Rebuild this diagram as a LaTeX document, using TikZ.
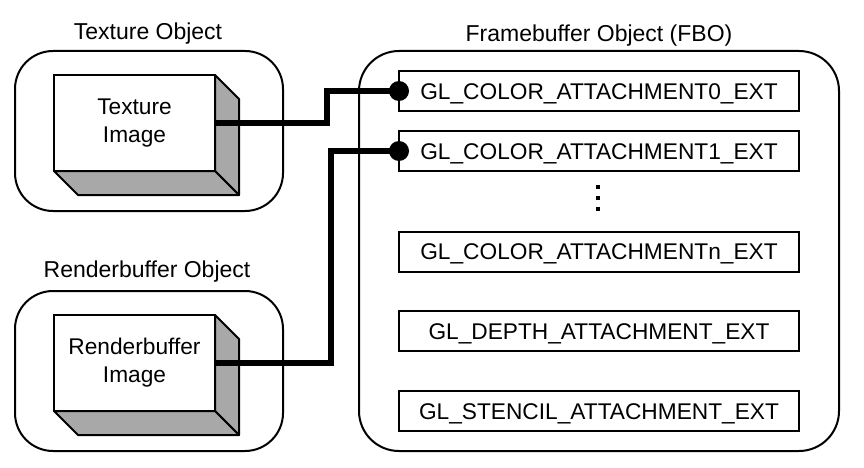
\documentclass[tikz,border=0pt]{standalone}
\usepackage{fontspec}
\setmainfont{Liberation Sans}
\definecolor{sidegray}{RGB}{168,168,168}
\begin{document}
\begin{tikzpicture}[x=1pt,y=-1pt,
  container/.style={draw, line width=2pt, rounded corners=38pt, inner sep=0pt, outer sep=0pt},
  titletext/.style={anchor=base, inner sep=0pt, font=\fontsize{23}{27}\selectfont},
  frontface/.style={draw, fill=white, line width=2pt, minimum width=161pt, minimum height=96pt,
    inner sep=0pt, outer sep=0pt, align=center, font=\fontsize{22.7}{28}\selectfont},
  sideface/.style={fill=sidegray, draw, line width=2pt, line join=round},
  attach/.style={draw, line width=2pt, minimum width=400pt, minimum height=40pt, inner sep=0pt,
    outer sep=0pt, text height=16.2pt, text depth=0pt, font=\fontsize{22.7}{26}\selectfont},
  conn/.style={line width=5.5pt},
  enddot/.style={fill=black},
]
\useasboundingbox (0,0) rectangle (864,468);

% containers
\node[container, minimum width=268pt, minimum height=160pt] (texobj) at (149,131) {};
\node[container, minimum width=268pt, minimum height=160pt] (rbobj) at (149,371) {};
\node[container, rounded corners=40pt, minimum width=480pt, minimum height=400pt] (fbo) at (599,251) {};

% titles
\node[titletext] (textitle) at (148,39.5) {Texture Object};
\node[titletext] (rbtitle) at (147,277.5) {Renderbuffer Object};
\node[titletext] (fbotitle) at (599,42) {Framebuffer Object (FBO)};

% 3D boxes
\node[frontface] (texf) at (134.5,123) {Texture\\Image};
\draw[sideface] (texf.north east) -- ++(24,24) -- ++(0,96) -- (texf.south east) -- cycle;
\draw[sideface] (texf.south west) -- ++(24,24) -- ++(161,0) -- (texf.south east) -- cycle;

\node[frontface] (rbf) at (134.5,363) {Renderbuffer\\Image};
\draw[sideface] (rbf.north east) -- ++(24,24) -- ++(0,96) -- (rbf.south east) -- cycle;
\draw[sideface] (rbf.south west) -- ++(24,24) -- ++(161,0) -- (rbf.south east) -- cycle;

% attachments
\node[attach] (att0) at (599,91) {GL\_COLOR\_ATTACHMENT0\_EXT};
\node[attach] (att1) at (599,151) {GL\_COLOR\_ATTACHMENT1\_EXT};
\node[attach] (attn) at (599,251.5) {GL\_COLOR\_ATTACHMENTn\_EXT};
\node[attach] (attd) at (599,331) {GL\_DEPTH\_ATTACHMENT\_EXT};
\node[attach] (atts) at (599,411) {GL\_STENCIL\_ATTACHMENT\_EXT};

% vertical ellipsis
\fill (596,185) rectangle ++(3.6,4);
\fill (596,196) rectangle ++(3.6,4);
\fill (596,207) rectangle ++(3.6,4);

% connectors
\coordinate (v1) at (327,107);
\coordinate (v2) at (331,250);
\draw[conn] (texf.east) -| (v1) |- (att0.west);
\draw[conn] (rbf.east) -| (v2) |- (att1.west);
\fill[enddot] (att0.west) circle (10);
\fill[enddot] (att1.west) circle (10);
\end{tikzpicture}
\end{document}
